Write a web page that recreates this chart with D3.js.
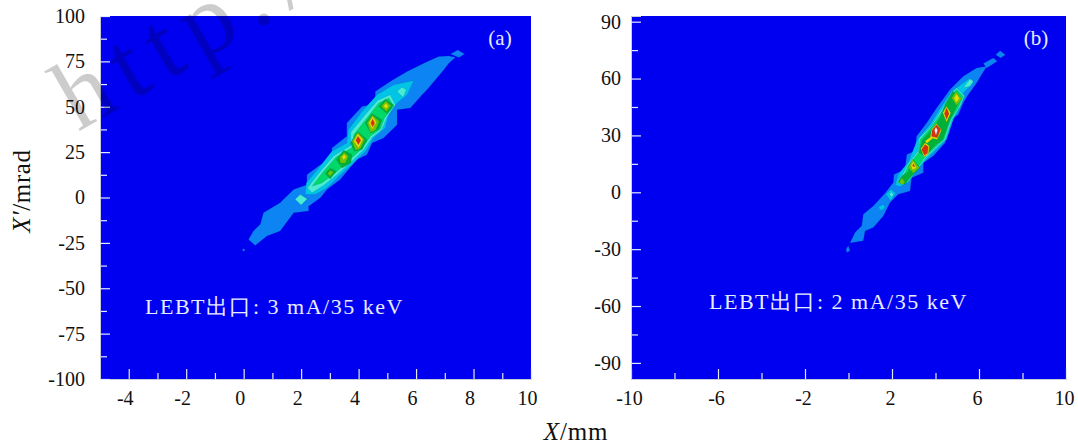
<!DOCTYPE html>
<html>
<head>
<meta charset="utf-8">
<script src="https://cdn.jsdelivr.net/npm/d3@7"></script>
<style>
  html, body { margin: 0; padding: 0; background: #fff; }
  svg text { font-family: "Liberation Serif", serif; }
</style>
</head>
<body>
<svg id="chart" width="1078" height="447"></svg>
<script>
// contour bands, in X (mm) / X' (mrad)
const aSky = [
  [[0.17,-23.1],[0.34,-18.5],[0.58,-14.8],[0.69,-8.4],[1.27,-2.9],[1.74,4.4],[2.20,7.0],[2.20,12.6],[2.67,18.1],[3.07,20.5],[3.07,27.3],[3.59,33.7],[3.59,41.0],[4.12,50.2],[4.58,51.5],[4.58,58.4],[5.10,63.9],[5.69,69.4],[6.27,74.0],[6.79,77.7],[7.14,78.0],[7.37,77.3],[7.14,74.0],[6.96,70.3],[6.38,59.3],[6.21,56.6],[5.80,49.3],[5.34,48.3],[5.34,40.1],[4.87,32.8],[4.47,30.0],[4.29,23.6],[3.94,20.9],[3.36,9.9],[2.90,4.4],[2.67,-0.2],[2.26,-4.8],[2.26,-7.5],[1.74,-8.4],[1.27,-18.5],[0.81,-21.2],[0.40,-26.4]],
  [[7.20,79.1],[7.45,81.3],[7.69,79.1],[7.49,77.1]],
  [[-0.05,-28.9],[0,-28.1],[0.05,-28.9],[0,-29.8]]
];
const aCyan = [
  [[2.14,1.6],[2.18,8.0],[2.61,16.3],[3.07,25.5],[3.59,30.0],[3.65,37.4],[4.12,47.4],[4.64,56.6],[5.22,62.1],[5.92,64.5],[5.69,56.6],[5.34,52.0],[5.05,45.6],[4.93,38.3],[4.52,32.8],[4.29,26.4],[3.83,19.0],[3.31,11.7],[2.90,5.3],[2.49,1.6]],
  [[1.79,-1.0],[1.97,1.6],[2.21,-0.8],[2.0,-4.2]]
];
const aPale = [
  [[2.22,5.3],[2.67,14.5],[3.15,23.1],[3.73,28.6],[3.73,35.9],[4.20,45.0],[4.66,53.5],[5.10,56.6],[5.28,51.1],[4.99,44.3],[4.81,37.4],[4.47,33.1],[4.20,26.7],[3.77,20.0],[3.25,12.6],[2.78,6.6],[2.38,2.6]],
  [[1.79,-1.0],[1.97,1.6],[2.21,-0.8],[2.0,-4.2]],
  [[5.34,58.4],[5.51,60.8],[5.66,59.3],[5.55,55.3]]
];
const aGreen = [
  [[2.38,6.2],[2.78,14.5],[3.22,22.3],[3.80,27.8],[3.83,34.6],[4.29,43.8],[4.70,52.0],[5.05,54.8],[5.22,50.2],[4.90,43.8],[4.76,37.7],[4.41,33.7],[4.14,27.3],[3.71,20.9],[3.19,13.5],[2.72,8.0]]
];
const aDeep = [
  [[2.84,13.2],[3.01,16.3],[3.22,14.5],[3.01,10.2]],
  [[3.22,20.9],[3.48,26.0],[3.77,23.6],[3.73,19.0],[3.42,16.3]],
  [[3.71,30.0],[3.97,36.4],[4.29,31.9],[4.12,26.4],[3.85,25.5]],
  [[4.23,41.0],[4.47,46.2],[4.81,42.8],[4.70,37.7],[4.43,35.5]],
  [[4.70,50.2],[4.93,54.2],[5.22,51.1],[4.99,46.1]]
];
const aLime = [
  [[2.92,13.2],[3.01,15.0],[3.13,14.0],[3.01,11.7]],
  [[3.34,22.3],[3.50,24.9],[3.65,22.7],[3.54,19.0],[3.36,19.0]],
  [[3.77,31.0],[3.97,35.9],[4.21,31.9],[4.06,26.8],[3.89,26.0]],
  [[4.29,41.0],[4.48,45.4],[4.72,41.9],[4.59,37.0],[4.41,35.9]],
  [[4.78,50.2],[4.95,53.3],[5.13,50.5],[4.97,47.4]]
];
const aYellow = [
  [[3.42,22.3],[3.50,24.0],[3.57,22.3],[3.48,20.5]],
  [[3.83,31.0],[3.97,35.2],[4.15,31.9],[4.00,27.3]],
  [[4.35,41.0],[4.49,44.7],[4.62,41.4],[4.48,37.4]],
  [[4.87,50.5],[4.96,52.0],[5.03,50.2],[4.95,48.7]]
];
const aRed = [
  [[3.90,31.5],[3.98,33.7],[4.08,31.5],[3.99,29.1]],
  [[4.42,41.0],[4.49,43.2],[4.56,41.0],[4.49,38.8]]
];
const aWhite = [];

const bSky = [
  [[0.07,-26.8],[0.30,-21.2],[0.61,-17.7],[0.68,-11.6],[1.14,-7.2],[1.68,-0.5],[2.06,5.1],[2.09,9.4],[2.60,12.1],[2.68,20.0],[3.06,21.8],[3.13,29.6],[3.60,36.7],[4.06,44.6],[4.67,54.2],[5.28,61.2],[5.89,65.6],[6.36,66.5],[6.12,62.1],[5.89,57.7],[5.51,51.6],[5.28,47.2],[5.05,41.0],[4.74,38.4],[4.44,26.1],[3.90,19.1],[3.44,15.6],[3.44,10.3],[2.90,7.7],[2.83,0.7],[2.29,-1.1],[1.91,-5.4],[1.60,-12.5],[1.14,-18.6],[0.76,-20.4],[0.68,-25.6]],
  [[6.20,67.9],[6.66,70.9],[6.84,69.1],[6.35,65.6]],
  [[6.77,72.6],[6.97,74.7],[7.21,72.6],[7.00,70.9]],
  [[-0.11,-30],[-0.01,-28.2],[0.07,-30.9],[-0.08,-31.8]]
];
const bCyan = [
  [[2.14,3.7],[2.29,9.5],[2.75,16.0],[3.17,27.9],[3.75,35.8],[4.13,42.8],[4.74,53.3],[5.59,60.3],[5.74,57.7],[5.28,52.5],[5.20,46.3],[4.82,38.4],[4.51,27.9],[4.21,24.4],[3.59,17.4],[3.13,11.2],[2.75,5.1],[2.37,3.0]],
  [[1.72,-1.1],[1.95,1.6],[2.17,-0.5],[1.94,-4.6]],
  [[1.37,-7.7],[1.60,-6.3],[1.68,-8.1],[1.48,-9.8]]
];
const bPale = [
  [[2.20,4.6],[2.55,10.8],[2.72,14.8],[3.20,21.8],[3.25,28.5],[3.80,35.0],[4.18,41.8],[4.72,52.2],[4.97,55.0],[5.34,50.8],[5.12,45.0],[4.76,38.4],[4.45,27.9],[4.12,24.4],[3.55,18.2],[3.12,11.5],[2.72,5.1]],
  [[1.88,-1.1],[1.97,0.2],[2.06,-1.1],[1.99,-2.8]],
  [[5.28,55.1],[5.59,59.8],[5.74,58.6],[5.59,56.0]]
];
const bGreen = [
  [[2.26,5.1],[2.60,10.3],[2.75,14.2],[3.21,20.9],[3.29,27.9],[3.82,34.6],[4.21,41.0],[4.74,51.6],[4.97,54.2],[5.28,50.7],[5.05,44.6],[4.70,38.4],[4.39,27.9],[4.05,24.4],[3.52,18.8],[3.10,11.8],[2.68,5.1]]
];
const bDeep = [
  [[2.29,5.4],[2.45,8.6],[2.75,10.7],[2.83,13.9],[2.98,17.0],[3.29,13.0],[3.06,10.3],[2.75,6.8],[2.60,4.2]],
  [[3.26,20.9],[3.36,27.0],[3.90,34.0],[4.21,39.3],[4.44,46.3],[4.79,53.3],[5.16,49.8],[4.94,44.5],[4.64,37.6],[4.33,27.9],[3.98,24.7],[3.52,19.1]]
];
const bLime = [
  [[2.34,5.4],[2.46,7.7],[2.60,5.1],[2.45,3.9]],
  [[2.75,13.0],[2.95,17.4],[3.26,13.0],[2.98,10.0]],
  [[4.74,49.8],[4.94,53.3],[5.20,49.3],[4.97,45.8]]
];
const bYellow = [
  [[2.87,14.2],[2.98,16.5],[3.13,13.0],[2.95,11.7]],
  [[4.85,49.8],[4.97,52.1],[5.10,49.3],[4.94,47.2]],
  [[4.33,41.9],[4.51,45.4],[4.70,41.9],[4.51,37.0]],
  [[3.82,33.1],[4.05,36.3],[4.28,32.8],[4.08,27.9],[3.75,28.8]],
  [[3.32,23.0],[3.52,26.1],[3.72,24.4],[3.67,20.0],[3.47,18.8]],
  [[3.52,27.0],[3.82,29.6],[3.90,28.8],[3.60,25.8]]
];
const bRed = [
  [[2.94,13.9],[2.98,15.2],[3.06,13.3]],
  [[4.41,41.6],[4.51,44.6],[4.62,41.6],[4.51,38.4]],
  [[3.85,32.8],[4.05,35.6],[4.24,33.2],[4.08,28.8],[3.82,29.6]],
  [[3.36,22.6],[3.52,25.2],[3.67,24.0],[3.63,20.5],[3.49,19.5]]
];
const bWhite = [
  [[3.95,32.8],[4.02,34.5],[4.10,32.8],[4.02,30.0]]
];

const aXTicks = [-4, -2, 0, 2, 4, 6, 8, 10];
const aXMinor = [-3, -1, 1, 3, 5, 7, 9];
const aYTicks = [100, 75, 50, 25, 0, -25, -50, -75, -100];
const aYMinor = [87.5, 62.5, 37.5, 12.5, -12.5, -37.5, -62.5, -87.5];
const bXTicks = [-10, -6, -2, 2, 6, 10];
const bXMinor = [-8, -4, 0, 4, 8];
const bYTicks = [90, 60, 30, 0, -30, -60, -90];
const bYMinor = [75, 45, 15, -15, -45, -75];

const bandColors = ["#0a84f4", "#00c4e6", "#4cecd0", "#00d868", "#00b038", "#70c800", "#e8e000", "#d8300c", "#f4e8f0"];

const svg = d3.select("#chart");
svg.append("defs").append("filter").attr("id", "soft")
  .append("feGaussianBlur").attr("stdDeviation", 0.5);

function drawPanel(cfg) {
  const x = d3.scaleLinear().domain(cfg.xDomain).range([cfg.left, cfg.right]);
  const y = d3.scaleLinear().domain(cfg.yDomain).range([cfg.bottom, cfg.top]);

  svg.append("rect")
    .attr("x", cfg.left).attr("y", cfg.top)
    .attr("width", cfg.right - cfg.left).attr("height", cfg.bottom - cfg.top)
    .attr("fill", "#0000f0");

  const line = d3.line().x(d => x(d[0])).y(d => y(d[1])).curve(d3.curveLinearClosed);
  const bands = svg.append("g").attr("filter", "url(#soft)");
  cfg.bands.forEach(function(polys, i) {
    bands.selectAll(null).data(polys).join("path")
      .attr("d", line)
      .attr("fill", bandColors[i])
      .attr("stroke", "#003c80")
      .attr("stroke-opacity", 0.25)
      .attr("stroke-width", 0.5);
  });

  // minor ticks first, then the labelled ones on top
  svg.append("g").attr("transform", `translate(0,${cfg.bottom})`)
    .call(d3.axisBottom(x).tickValues(cfg.xMinor).tickSize(-6).tickFormat(""))
    .call(styleAxis);
  svg.append("g").attr("transform", `translate(${cfg.left},0)`)
    .call(d3.axisLeft(y).tickValues(cfg.yMinor).tickSize(-7).tickFormat(""))
    .call(styleAxis);
  svg.append("g").attr("transform", `translate(0,${cfg.bottom})`)
    .call(d3.axisBottom(x).tickValues(cfg.xTicks).tickSize(-10).tickPadding(cfg.xPad).tickFormat(d3.format("d")))
    .call(styleAxis)
    .call(g => g.selectAll(".tick text").attr("dx", cfg.xLabelShift));
  svg.append("g").attr("transform", `translate(${cfg.left},0)`)
    .call(d3.axisLeft(y).tickValues(cfg.yTicks).tickSize(-10).tickPadding(cfg.yPad).tickFormat(d3.format("d")))
    .call(styleAxis);

  svg.append("text").attr("x", cfg.noteX).attr("y", cfg.noteY)
    .attr("fill", "#e8ecff").attr("font-size", 22).attr("letter-spacing", 1.5)
    .text(cfg.note);
  svg.append("text").attr("x", cfg.tagX).attr("y", 45)
    .attr("fill", "#e8ecff").attr("font-size", 21).attr("text-anchor", "middle")
    .text(cfg.tag);
}

function styleAxis(g) {
  g.select(".domain").attr("stroke", "#c8c8d8").attr("stroke-width", 1);
  g.selectAll(".tick line").attr("stroke", "#e4e8ff").attr("stroke-width", 1.2);
  g.selectAll(".tick text")
    .attr("fill", "#111")
    .attr("font-size", 20)
    .text(function() { return d3.select(this).text().replace("\u2212", "-"); });
}

drawPanel({
  left: 100, right: 531, top: 16, bottom: 379,
  xDomain: [-5, 10], yDomain: [-100, 100],
  xTicks: aXTicks, xMinor: aXMinor, yTicks: aYTicks, yMinor: aYMinor,
  xPad: 12, yPad: 15, xLabelShift: -4,
  bands: [aSky, aCyan, aPale, aGreen, aDeep, aLime, aYellow, aRed, aWhite],
  note: "LEBT\u51fa\u53e3: 3 mA/35 keV", noteX: 145, noteY: 314,
  tag: "(a)", tagX: 500
});
drawPanel({
  left: 631, right: 1066, top: 16, bottom: 379,
  xDomain: [-10, 10], yDomain: [-98.5, 93],
  xTicks: bXTicks, xMinor: bXMinor, yTicks: bYTicks, yMinor: bYMinor,
  xPad: 12, yPad: 10, xLabelShift: -2,
  bands: [bSky, bCyan, bPale, bGreen, bDeep, bLime, bYellow, bRed, bWhite],
  note: "LEBT\u51fa\u53e3: 2 mA/35 keV", noteX: 709, noteY: 309,
  tag: "(b)", tagX: 1036
});

// axis titles
const yTitle = svg.append("text")
  .attr("transform", "translate(30,191) rotate(-90)")
  .attr("text-anchor", "middle").attr("font-size", 25).attr("letter-spacing", 0.6).attr("fill", "#111");
yTitle.append("tspan").attr("font-style", "italic").text("X\u2032");
yTitle.append("tspan").text("/mrad");
const xTitle = svg.append("text")
  .attr("x", 576).attr("y", 440)
  .attr("text-anchor", "middle").attr("font-size", 25).attr("letter-spacing", 0.8).attr("fill", "#111");
xTitle.append("tspan").attr("font-style", "italic").text("X");
xTitle.append("tspan").text("/mm");

// the watermark lying across the top left corner
svg.append("text")
  .attr("transform", "translate(78,132) rotate(-30)")
  .attr("font-size", 100).attr("letter-spacing", 12)
  .attr("fill", "#000").attr("fill-opacity", 0.2)
  .text("http://");
</script>
</body>
</html>
